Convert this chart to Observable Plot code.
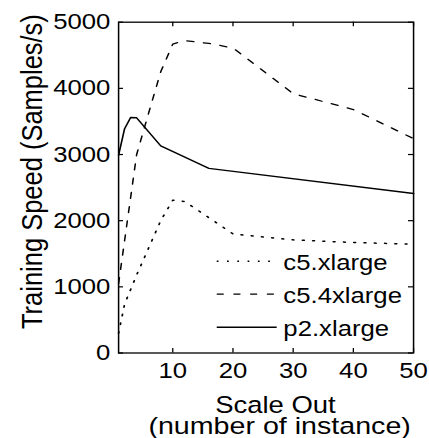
<!DOCTYPE html>
<html><head><meta charset="utf-8">
<script src="https://cdn.jsdelivr.net/npm/d3@7"></script>
<script src="https://cdn.jsdelivr.net/npm/@observablehq/plot@0.6"></script>
<style>
html,body{margin:0;padding:0;background:#fff;overflow:hidden}
#chart svg{display:block}
</style></head><body><div id="chart"></div>
<script>
// ---- data ----
const seriesNames = ["c5.xlarge", "c5.4xlarge", "p2.xlarge"];
const c5xlX  = [1, 2, 4, 8, 10, 12, 20, 30, 40, 50];
const c5xlY  = [300, 740, 1180, 2000, 2310, 2290, 1800, 1710, 1670, 1645];
const c54xlX = [1, 2, 4, 6, 8, 10, 12, 16, 20, 30, 40, 50];
const c54xlY = [1050, 1700, 3000, 3630, 4250, 4670, 4720, 4680, 4610, 3920, 3680, 3240];
const p2xlX  = [1, 2, 3, 4, 8, 16, 50];
const p2xlY  = [2990, 3390, 3560, 3555, 3130, 2790, 2410];
const xTicks = [10, 20, 30, 40, 50];
const yTicks = [0, 1000, 2000, 3000, 4000, 5000];
const xLabelLines = ["Scale Out", "(number of instance)"];
const yLabel = "Training Speed (Samples/s)";

// ---- styles ----
const dashes = {"c5.xlarge": "1.5,7.3", "c5.4xlarge": "6,8.3", "p2.xlarge": null};
const widths = {"c5.xlarge": 1.5, "c5.4xlarge": 1.3, "p2.xlarge": 1.4};

const seriesXY = {"c5.xlarge": [c5xlX, c5xlY], "c5.4xlarge": [c54xlX, c54xlY], "p2.xlarge": [p2xlX, p2xlY]};
const rows = seriesNames.flatMap(s => seriesXY[s][0].map((x, i) => ({series: s, x, y: seriesXY[s][1][i]})));

const W = 367, H = 438;
const mL = 100.95, mR = 13.7, mT = 21.7, mB = 85.5;
const innerW = W - mL - mR, innerH = H - mT - mB;
const FONT = "Liberation Sans, Arial, Helvetica, sans-serif";

function legend(index, scales, values, dims) {
  const g = d3.create("svg:g");
  const right = dims.width - dims.marginRight;
  const bottom = dims.height - dims.marginBottom;
  seriesNames.forEach((s, i) => {
    const base = bottom - 82 + i * 33;
    g.append("line")
      .attr("x1", right - 167.9).attr("x2", right - 116.6)
      .attr("y1", base - 9.3).attr("y2", base - 9.3)
      .attr("stroke", "black").attr("stroke-width", widths[s])
      .attr("stroke-dasharray", dashes[s]);
    g.append("text")
      .attr("x", right - 110.9).attr("y", base)
      .attr("font-size", 22).attr("fill", "black")
      .attr("text-anchor", "start")
      .text(s);
  });
  return g.node();
}

const marks = [
  ...seriesNames.map(s => Plot.line(rows.filter(d => d.series === s), {
    x: "x", y: "y", stroke: "black", strokeWidth: widths[s],
    strokeDasharray: dashes[s]
  })),
  Plot.frame({stroke: "black", strokeWidth: 1.3}),
  Plot.ruleX(xTicks, {x: d => d, insetTop: innerH - 4.5, stroke: "black", strokeWidth: 1.1}),
  Plot.ruleX(xTicks, {x: d => d, insetBottom: innerH - 4.5, stroke: "black", strokeWidth: 1.1}),
  Plot.ruleY(yTicks, {y: d => d, insetRight: innerW - 4.3, stroke: "black", strokeWidth: 1.2}),
  Plot.ruleY(yTicks, {y: d => d, insetLeft: innerW - 4.3, stroke: "black", strokeWidth: 1.2}),
  Plot.axisX({ticks: xTicks, tickSize: 0, tickPadding: 9, label: null, fontSize: 22, tickFormat: d => String(d)}),
  Plot.axisY({ticks: yTicks, tickSize: 0, tickPadding: 7, label: null, fontSize: 22, tickFormat: d => String(d)}),
  Plot.text([yLabel], {text: d => d, frameAnchor: "left", textAnchor: "middle", rotate: -90, dx: -73.5, dy: -16, fontSize: 25.5, fill: "black"}),
  Plot.text([xLabelLines[0]], {text: d => d, frameAnchor: "bottom", textAnchor: "middle", lineAnchor: "bottom", dx: 8, dy: 59.5, fontSize: 23.5, fill: "black"}),
  Plot.text([xLabelLines[1]], {text: d => d, frameAnchor: "bottom", textAnchor: "middle", lineAnchor: "bottom", dx: 11.6, dy: 80.5, fontSize: 24.5, fill: "black"}),
  legend
];

const svg = Plot.plot({
  width: W, height: H,
  marginLeft: mL, marginRight: mR, marginTop: mT, marginBottom: mB,
  x: {domain: [1, 50]},
  y: {domain: [0, 5000]},
  style: {fontFamily: FONT, fontSize: "22px", color: "black", background: "white", overflow: "visible"},
  marks
});
svg.setAttribute("width", 429);
svg.setAttribute("preserveAspectRatio", "none");
svg.style.width = "429px";
svg.style.height = "438px";
svg.style.maxWidth = "none";
document.getElementById("chart").appendChild(svg);
</script></body></html>
